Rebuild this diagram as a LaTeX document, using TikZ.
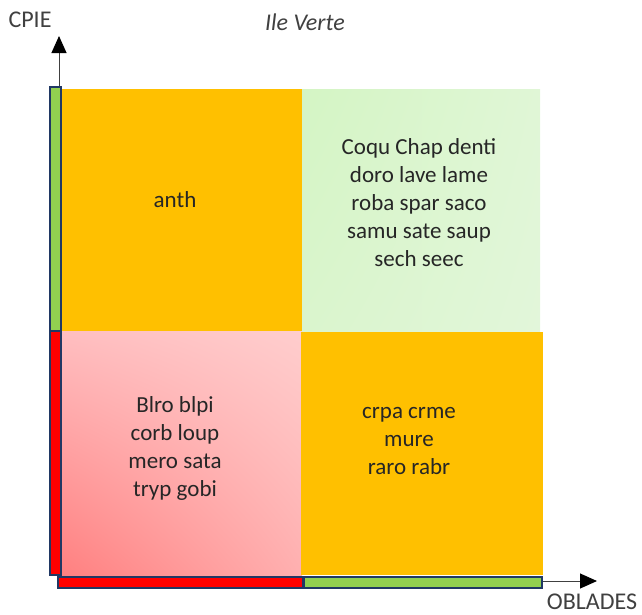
\documentclass[tikz,border=0pt]{standalone}
\usepackage{fontspec}
\setmainfont{Carlito}
\usetikzlibrary{arrows.meta,shadings}
\definecolor{gold}{HTML}{FFC000}
\definecolor{leaf}{HTML}{92D050}
\definecolor{navy}{HTML}{203864}
\definecolor{ink}{HTML}{262626}
\definecolor{axisgray}{HTML}{404040}
\definecolor{mintA}{HTML}{D4F5C4}
\definecolor{mintB}{HTML}{E0F6D6}
\definecolor{mintC}{HTML}{DAF5CD}
\definecolor{mintD}{HTML}{E2F6DA}
\definecolor{pinkA}{HTML}{FFBEC0}
\definecolor{pinkB}{HTML}{FFCDCD}
\definecolor{pinkC}{HTML}{FF8080}
\definecolor{pinkD}{HTML}{FFB0B0}

\begin{document}
\begin{tikzpicture}[
  x=1pt,y=-1pt,
  q/.style={inner sep=0pt,anchor=north west,draw=none},
  t/.style={font=\fontsize{23}{28}\selectfont,align=center,text=ink},
  lab/.style={font=\fontsize{24}{28}\selectfont,text=axisgray},
  bar/.style={draw=navy,line width=2pt,inner sep=0pt,anchor=north west},
  ax/.style={-{Triangle[length=17pt,width=15pt,color=black]},line width=1pt,draw=axisgray}
]
\useasboundingbox (0,0) rectangle (642,614);
% quadrants
\node[q,fill=gold,minimum width=240pt,minimum height=242pt] (tl) at (62,89) {};
\node[q,upper left=mintA,upper right=mintB,lower left=mintC,lower right=mintD,
  minimum width=238pt,minimum height=242pt] (tr) at (302,89) {};
\node[q,upper left=pinkA,upper right=pinkB,lower left=pinkC,lower right=pinkD,
  minimum width=240pt,minimum height=244pt] (bl) at (62,331) {};
\node[q,fill=gold,minimum width=242pt,minimum height=243pt] (br) at (301,332) {};
% texts
\node[t] (anth) at (175,200) {anth};
\node[t] (trtxt) at (419,203) {Coqu Chap denti\\doro lave lame\\roba spar saco\\samu sate saup\\sech seec};
\node[t] (bltxt) at (175,448) {Blro blpi\\corb loup\\mero sata\\tryp gobi};
\node[t] (brtxt) at (409,441) {crpa crme\\mure\\raro rabr};
% axes
\coordinate (yo) at (59,585);
\coordinate (ytip) at (59,36);
\coordinate (xo) at (60,581);
\coordinate (xtip) at (597,581);
\draw[ax] (yo) -- (ytip);
\draw[ax] (xo) -- (xtip);
% bars
\node[bar,fill=leaf,minimum width=11pt,minimum height=244pt] (ygreen) at (49,86) {};
\node[bar,fill=red,minimum width=11pt,minimum height=244pt] (yred) at (49,330) {};
\node[bar,fill=red,minimum width=245pt,minimum height=11pt] (xred) at (57,576) {};
\node[bar,fill=leaf,minimum width=238pt,minimum height=11pt] (xgreen) at (303,576) {};
% labels
\node[lab] (cpie) at (30,20) {CPIE};
\node[lab,font=\fontsize{24}{28}\selectfont\itshape] (title) at (305,22) {Ile Verte};
\node[lab,anchor=base,inner sep=0pt] (oblades) at (592,609) {OBLADES};
\end{tikzpicture}
\end{document}
